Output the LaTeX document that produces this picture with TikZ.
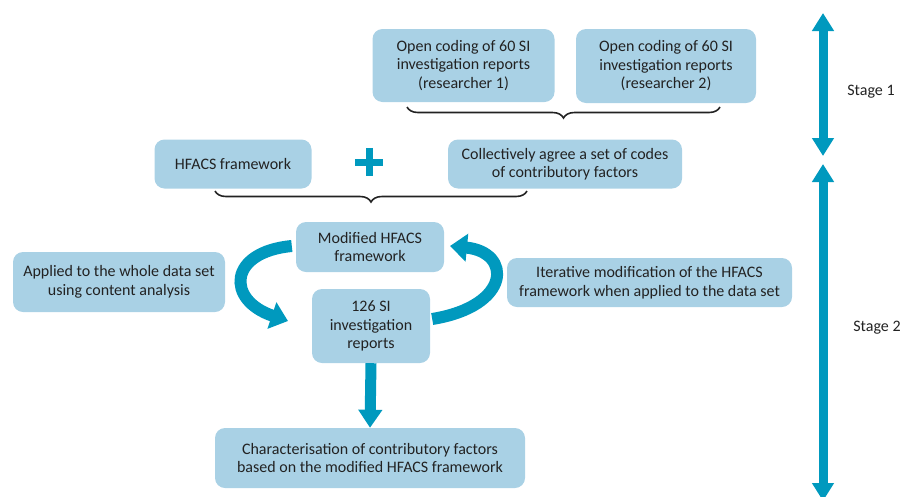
\documentclass[tikz,border=0pt]{standalone}
\usepackage{fontspec}
\setmainfont{Carlito}
\usetikzlibrary{arrows.meta,decorations.pathreplacing}
\definecolor{boxblue}{HTML}{A9D1E5}
\definecolor{arrblue}{HTML}{0099BE}
\definecolor{txt}{HTML}{222222}
\tikzset{
  stepbox/.style={fill=boxblue, rounded corners=10pt, align=center, text=txt,
    inner sep=0pt, font=\fontsize{16}{18.5}\selectfont},
  bracel/.style={decorate, decoration={brace, mirror, amplitude=11pt}, line width=1.6pt, draw=txt},
  bigarrow/.style={draw=arrblue, line width=12pt, -{Triangle[length=17pt,width=27pt]}},
  stagearrow/.style={draw=arrblue, line width=9pt,
    {Triangle[length=18pt,width=21pt]}-{Triangle[length=18pt,width=21pt]}},
  stagelbl/.style={text=txt, font=\fontsize{16}{18.5}\selectfont}
}
\begin{document}
\begin{tikzpicture}[x=1pt,y=-1pt]
\useasboundingbox (0,0) rectangle (913,496);

\node[stepbox, minimum width=182pt, minimum height=73pt] (r1) at (463.5,65.5)
  {Open coding of 60 SI\\investigation reports\\(researcher 1)};
\node[stepbox, minimum width=180pt, minimum height=74pt] (r2) at (666,66)
  {Open coding of 60 SI\\investigation reports\\(researcher 2)};
\node[stepbox, minimum width=157pt, minimum height=49pt] (hf) at (233,164)
  {HFACS framework};
\node[stepbox, minimum width=234pt, minimum height=49pt] (ca) at (565,164)
  {Collectively agree a set of codes\\of contributory factors};
\node[stepbox, minimum width=148pt, minimum height=50pt] (mod) at (370,247)
  {Modified HFACS\\framework};
\node[stepbox, minimum width=118pt, minimum height=74pt] (si) at (371,326)
  {126 SI\\investigation\\reports};
\node[stepbox, minimum width=212pt, minimum height=60pt] (app) at (119,282)
  {Applied to the whole data set\\using content analysis};
\node[stepbox, minimum width=285pt, minimum height=49pt] (it) at (649.5,282.5)
  {Iterative modification of the HFACS\\framework when applied to the data set};
\node[stepbox, minimum width=310pt, minimum height=60pt] (ch) at (370,458)
  {Characterisation of contributory factors\\based on the modified HFACS framework};

% plus sign
\node[minimum size=28pt, inner sep=0pt] (plus) at (369,162) {};
\draw[arrblue, line width=7pt] (plus.west) -- (plus.east);
\draw[arrblue, line width=7pt] (plus.north) -- (plus.south);

% braces
\coordinate (b1l) at (407,107);
\coordinate (b1r) at (720,107);
\draw[bracel] (b1l) -- (b1r);
\coordinate (b2l) at (215,191);
\coordinate (b2r) at (527,191);
\draw[bracel] (b2l) -- (b2r);

% curved arrows
\draw[bigarrow] ([xshift=-4pt]mod.west |- 0,246) .. controls (228,252) and (226,300) .. (288,321);
\draw[bigarrow] ([xshift=2pt]si.east |- 0,319) .. controls (512,306) and (512,252) .. (450,246);

% down arrow
\draw[draw=arrblue, line width=11pt, -{Triangle[length=18pt,width=23pt]}] (si.south) -- (ch.north);

% stage arrows
\coordinate (s1t) at (823,13);
\coordinate (s1b) at (823,156);
\coordinate (s2t) at (823,164);
\coordinate (s2b) at (823,501);
\draw[stagearrow] (s1t) -- (s1b);
\draw[stagearrow] (s2t) -- (s2b);
\node[stagelbl] (st1) at (871,92) {Stage 1};
\node[stagelbl] (st2) at (877,328) {Stage 2};
\end{tikzpicture}
\end{document}
